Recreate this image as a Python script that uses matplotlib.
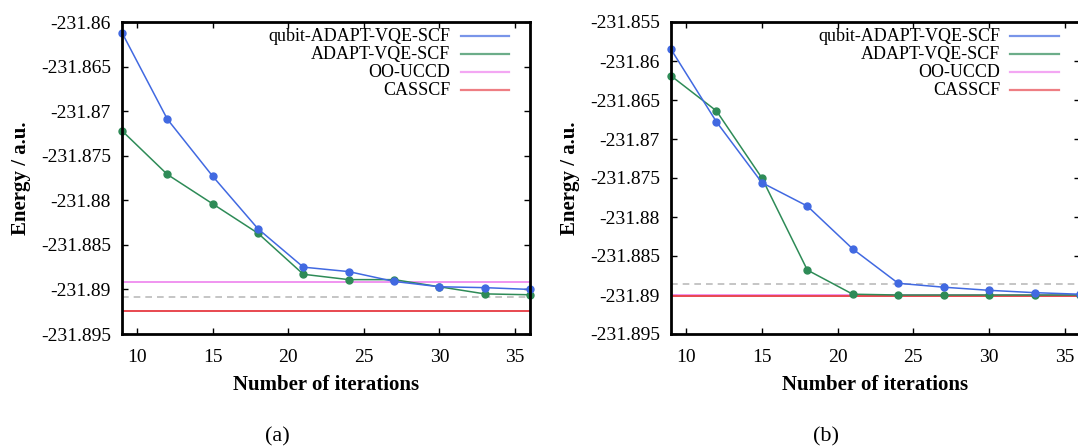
import numpy as np
import matplotlib
matplotlib.use('Agg')
import matplotlib.pyplot as plt

plt.rcParams['font.family'] = ['Liberation Serif', 'DejaVu Serif']
plt.rcParams['font.size'] = 14

iters = [9, 12, 15, 18, 21, 24, 27, 30, 33, 36]

# panel (a)
qubit_a = [-231.8612, -231.8709, -231.8773, -231.8832, -231.8875,
           -231.8880, -231.8891, -231.8897, -231.8898, -231.8900]
adapt_a = [-231.8722, -231.8771, -231.8804, -231.8837, -231.8883,
           -231.8889, -231.8889, -231.8897, -231.8905, -231.8906]
oouccd_a = -231.8892
ref_a = -231.89085
casscf_a = -231.89245

# panel (b)
qubit_b = [-231.8585, -231.8678, -231.8756, -231.8786, -231.8841,
           -231.8885, -231.8890, -231.8894, -231.8897, -231.8899]
adapt_b = [-231.8619, -231.8664, -231.8750, -231.8868, -231.8899,
           -231.8900, -231.8900, -231.8900, -231.8900, -231.8900]
oouccd_b = -231.8900
ref_b = -231.8886
casscf_b = -231.8901

names = ['qubit-ADAPT-VQE-SCF', 'ADAPT-VQE-SCF', 'OO-UCCD', 'CASSCF']
colors = ['#4169e1', '#2e8b57', '#ee82ee', '#e8474f']

W, H = 1078, 446
fig = plt.figure(figsize=(W/100, H/100), dpi=100)
ax1 = fig.add_axes([122/W, 112/H, 408/W, 312/H])
ax2 = fig.add_axes([671/W, 112/H, 409/W, 312/H])


def panel(ax, qubit, adapt, oouccd, ref, casscf, ylim, yticks):
    ax.axhline(ref, color='#bbbbbb', lw=1.2, ls=(0, (4, 3)))
    ax.axhline(oouccd, color=colors[2], lw=1.2)
    ax.axhline(casscf, color=colors[3], lw=1.4)
    ax.plot(iters, adapt, '-o', color=colors[1], lw=1.1, ms=5, clip_on=False)
    ax.plot(iters, qubit, '-o', color=colors[0], lw=1.1, ms=5, clip_on=False)
    ax.set_xlim(9, 36)
    ax.set_ylim(*ylim)
    ax.set_xticks([10, 15, 20, 25, 30, 35])
    ax.set_yticks(yticks)
    ax.set_yticklabels(['%g' % v for v in yticks])
    ax.tick_params(direction='in', top=True, right=True, length=4, width=1,
                   labelsize=14)
    ax.tick_params(axis='x', pad=11)
    ax.tick_params(axis='y', pad=8)
    for s in ax.spines.values():
        s.set_linewidth(2)
    ax.set_xlabel('Number of iterations', fontweight='bold', fontsize=15, labelpad=6)
    ax.set_ylabel('Energy / a.u.', fontweight='bold', fontsize=15, labelpad=7)
    # gnuplot-style key
    for i, (n, c) in enumerate(zip(names, colors)):
        y = 0.955 - i*0.058
        ax.text(0.805, y, n, transform=ax.transAxes, ha='right', va='center',
                fontsize=13)
        ax.plot([0.83, 0.948], [y, y], transform=ax.transAxes, color=c,
                lw=1.6, alpha=0.7)


panel(ax1, qubit_a, adapt_a, oouccd_a, ref_a, casscf_a,
      (-231.895, -231.86), np.round(np.arange(-231.895, -231.8599, 0.005), 3))
panel(ax2, qubit_b, adapt_b, oouccd_b, ref_b, casscf_b,
      (-231.895, -231.855), np.round(np.arange(-231.895, -231.8549, 0.005), 3))

fig.text(277/W, 1 - 437/H, '(a)', ha='center', va='center', fontsize=16)
fig.text(826/W, 1 - 437/H, '(b)', ha='center', va='center', fontsize=16)

fig.savefig('out.png', dpi=100)
